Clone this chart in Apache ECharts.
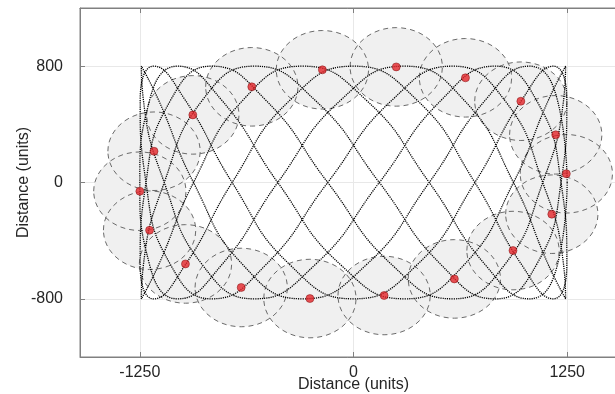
<!DOCTYPE html>
<html>
<head>
<meta charset="utf-8">
<script src="https://cdn.jsdelivr.net/npm/echarts@6/dist/echarts.min.js"></script>
<style>
  html, body { margin: 0; padding: 0; background: #fff; }
  #chart { width: 615px; height: 394px; }
</style>
</head>
<body>
<div id="chart"></div>
<script>
// trajectory vertices (dotted path)
const trajX = [1250, 1193, 1029, 771, 443, 75, -299, -647, -936, -1140, -1241, -1229, -1107, -884, -581, -225,
  151, 513, 829, 1070, 1214, 1248, 1169, 984, 710, 372, 0, -372, -710, -984, -1169, -1248,
  -1214, -1070, -829, -513, -151, 225, 581, 884, 1107, 1229, 1241, 1140, 936, 647, 299, -75,
  -443, -771, -1029, -1193, -1250, -1193, -1029, -771, -443, -75, 299, 647, 936, 1140, 1241, 1229,
  1107, 884, 581, 225, -151, -513, -829, -1070, -1214, -1248, -1169, -984, -710, -372, 0, 372,
  710, 984, 1169, 1248, 1214, 1070, 829, 513, 151, -225, -581, -884, -1107, -1229, -1241, -1140,
  -936, -647, -299, 75, 443, 771, 1029, 1193, 1250];
const trajY = [0, 566, 800, 566, 0, -566, -800, -566, 0, 566, 800, 566, 0, -566, -800, -566,
  0, 566, 800, 566, 0, -566, -800, -566, 0, 566, 800, 566, 0, -566, -800, -566,
  0, 566, 800, 566, 0, -566, -800, -566, 0, 566, 800, 566, 0, -566, -800, -566,
  0, 566, 800, 566, 0, -566, -800, -566, 0, 566, 800, 566, 0, -566, -800, -566,
  0, 566, 800, 566, 0, -566, -800, -566, 0, 566, 800, 566, 0, -566, -800, -566,
  0, 566, 800, 566, 0, -566, -800, -566, 0, 566, 800, 566, 0, -566, -800, -566,
  0, 566, 800, 566, 0, -566, -800, -566, 0];

// sensor nodes (red dots) and their coverage radius
const sensorX = [1245, 1183, 979, 655, 250, -182, -595, -940, -1167, -1250, -1193, -983, -657, -255, 179, 590, 933, 1160];
const sensorY = [60, 328, 559, 720, 795, 775, 658, 465, 215, -60, -328, -560, -722, -798, -777, -663, -468, -218];
const coverRadius = 270;

const xTicks = [-1250, 0, 1250];
const yTicks = [-800, 0, 800];

const font = 'Liberation Sans, Arial, sans-serif';
const axisGrey = '#808080';
const textGrey = '#262626';

const chart = echarts.init(document.getElementById('chart'));

const sensors = sensorX.map((x, i) => [x, sensorY[i]]);
const path = trajX.map((x, i) => [x, trajY[i]]);

function coverage(filled) {
  return function (params, api) {
    const c = api.coord([api.value(0), api.value(1)]);
    const rx = api.size([coverRadius, 0])[0];
    const ry = api.size([0, coverRadius])[1];
    return {
      type: 'ellipse',
      shape: { cx: c[0], cy: c[1], rx: rx, ry: ry },
      style: filled
        ? { fill: '#f0f0f0', stroke: null }
        : { fill: null, stroke: '#6a6a6a', lineWidth: 1, lineDash: [5, 4] }
    };
  };
}

const tickLabel = v => String(v);

const option = {
  animation: false,
  textStyle: { fontFamily: font },
  grid: {
    left: 80, right: -12, top: 8, bottom: 37,
    show: true, borderColor: axisGrey, borderWidth: 1,
    outerBoundsMode: 'none'
  },
  xAxis: [{
    type: 'value', min: -1600, max: 1600,
    name: 'Distance (units)', nameLocation: 'middle', nameGap: 20, nameMoveOverlap: false,
    nameTextStyle: { fontSize: 16, color: textGrey, fontFamily: font },
    axisLine: { show: true, onZero: false, lineStyle: { color: axisGrey } },
    axisTick: { show: true, inside: true, length: 5, customValues: xTicks, lineStyle: { color: axisGrey } },
    axisLabel: { customValues: xTicks, formatter: tickLabel, fontSize: 16, color: textGrey, margin: 8, fontFamily: font },
    splitLine: { show: true, lineStyle: { color: '#e8e8e8' } }
  }, {
    type: 'value', min: -1600, max: 1600, position: 'top',
    axisLine: { show: true, onZero: false, lineStyle: { color: axisGrey } },
    axisTick: { show: true, inside: true, length: 5, customValues: xTicks, lineStyle: { color: axisGrey } },
    axisLabel: { show: false },
    splitLine: { show: false }
  }],
  yAxis: {
    type: 'value', min: -1200, max: 1200,
    name: 'Distance (units)', nameLocation: 'middle', nameGap: 48, nameMoveOverlap: false,
    nameTextStyle: { fontSize: 16, color: textGrey, fontFamily: font },
    axisLine: { show: true, onZero: false, lineStyle: { color: axisGrey } },
    axisTick: { show: true, inside: true, length: 5, customValues: yTicks, lineStyle: { color: axisGrey } },
    axisLabel: { customValues: yTicks, formatter: tickLabel, fontSize: 16, color: textGrey, margin: 17, fontFamily: font },
    splitLine: { show: true, lineStyle: { color: '#e8e8e8' } }
  },
  series: [
    {
      type: 'custom', name: 'coverage fill', data: sensors,
      renderItem: coverage(true), encode: { x: 0, y: 1 }, z: 1, silent: true
    },
    {
      type: 'custom', name: 'coverage edge', data: sensors,
      renderItem: coverage(false), encode: { x: 0, y: 1 }, z: 2, silent: true
    },
    {
      type: 'line', name: 'trajectory', data: path,
      smooth: true, showSymbol: false, symbol: 'none',
      lineStyle: { color: '#000', width: 1.3, type: [1.2, 1] },
      z: 3, silent: true
    },
    {
      type: 'scatter', name: 'sensors', data: sensors,
      symbolSize: 8,
      itemStyle: { color: '#e3262b', borderColor: '#7a0a0a', borderWidth: 0.6 },
      z: 4
    }
  ]
};

chart.setOption(option);
</script>
</body>
</html>
